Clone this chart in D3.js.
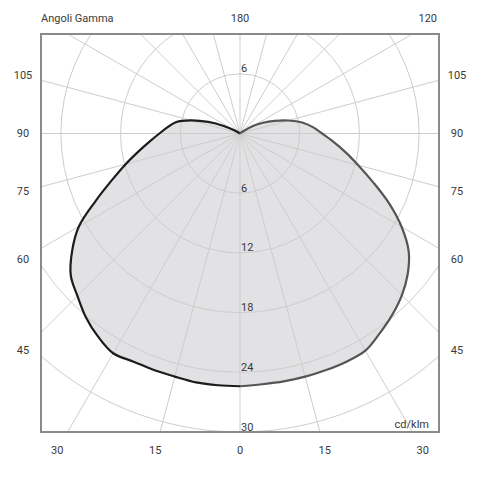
<!DOCTYPE html>
<html>
<head>
<meta charset="utf-8">
<script src="https://cdn.jsdelivr.net/npm/d3@7"></script>
<style>
  html, body { margin: 0; padding: 0; background: #fff; }
  svg { display: block; }
  text { font-family: Roboto, "Noto Sans", sans-serif; font-size: 11px; fill: #3a3a3a; }
</style>
</head>
<body>
<svg id="chart" width="492" height="482"></svg>
<script>
// ---- data (cd/klm per gamma angle) ----
const gammaAngles = [0,5,10,15,20,25,30,35,40,45,50,55,60,65,70,75,80,85,90,95,100,105,110,115,120,125,130];
const leftPlane  = [25.4,25.4,25.4,25.3,25.3,25.3,25.5,24.9,24.1,23.1,22.2,20.6,18.7,16.0,13.7,11.9,10.35,9.1,8.1,7.3,6.55,5.1,3.4,1.8,0.6,0,0];
const rightPlane = [25.4,25.3,25.3,25.3,25.3,25.3,25.2,24.5,23.8,23.0,22.0,20.7,18.75,16.5,14.2,12.3,10.76,9.4,8.25,7.35,6.35,5.05,3.7,2.55,1.5,0.3,0];
const ringValues = [6,12,18,24,30];
const ringLabelsBelow = [6,12,18,24,30];
const ringLabelsAbove = [6];
const spokeAngles = d3.range(0, 360, 15);
const leftAngleLabels = [15,30,45,60,75,90,105];
const rightAngleLabels = [15,30,45,60,75,90,105,120];
const bottomCenterLabel = 0;
const topCenterLabel = 180;
const titleText = "Angoli Gamma";
const unitText = "cd/klm";

// ---- layout ----
const svg = d3.select("#chart");
const x = d3.scaleLinear().domain([-20, 20]).range([41, 439]);
const y = d3.scaleLinear().domain([-10, 30]).range([34, 432]);
const r = d3.scaleLinear().domain([0, 30]).range([0, 298.5]);
const cx = x(0), cy = y(0);

svg.append("defs").append("clipPath").attr("id", "box")
  .append("rect").attr("x", x(-20)).attr("y", y(-10))
  .attr("width", x(20) - x(-20)).attr("height", y(30) - y(-10));

const plot = svg.append("g").attr("clip-path", "url(#box)");
const center = plot.append("g").attr("transform", `translate(${cx},${cy})`);

// points for each half (stop at first zero)
function half(values, side) {
  const pts = [];
  for (let i = 0; i < gammaAngles.length; i++) {
    const g = gammaAngles[i] * Math.PI / 180;
    pts.push([side > 0 ? Math.PI - g : Math.PI + g, r(values[i])]);
    if (values[i] === 0) break;
  }
  return pts;
}
const leftPts = half(leftPlane, -1);
const rightPts = half(rightPlane, 1);

const radial = d3.lineRadial().angle(d => d[0]).radius(d => d[1]).curve(d3.curveCatmullRom.alpha(0.5));

// fill
const fillPts = rightPts.slice().reverse().concat(leftPts.slice(1));
center.append("path").attr("d", radial(fillPts) + "Z")
  .attr("fill", "#e2e2e5").attr("stroke", "none");

// grid
const grid = center.append("g").attr("stroke", "#cdcdcd").attr("stroke-width", 1).attr("fill", "none");
ringValues.forEach(v => grid.append("circle").attr("r", r(v)));
spokeAngles.forEach(a => {
  const t = a * Math.PI / 180;
  grid.append("line").attr("x1", 0).attr("y1", 0)
    .attr("x2", 500 * Math.sin(t)).attr("y2", 500 * Math.cos(t));
});

// curves
center.append("path").attr("d", radial(leftPts)).attr("fill", "none")
  .attr("stroke", "#1c1c1c").attr("stroke-width", 2.2).attr("stroke-linejoin", "round");
center.append("path").attr("d", radial(rightPts)).attr("fill", "none")
  .attr("stroke", "#555555").attr("stroke-width", 2.2).attr("stroke-linejoin", "round");

// ring labels
ringLabelsBelow.forEach(v => svg.append("text").attr("x", cx + 1).attr("y", cy + r(v) - 1.5).text(v));
ringLabelsAbove.forEach(v => svg.append("text").attr("x", cx + 1).attr("y", cy - r(v) - 1.5).text(v));

// frame
svg.append("rect").attr("x", x(-20)).attr("y", y(-10))
  .attr("width", x(20) - x(-20)).attr("height", y(30) - y(-10))
  .attr("fill", "none").attr("stroke", "#8a8a8a").attr("stroke-width", 2);

// angle labels
const ob = { left: x(-20) - 18, right: x(20) + 18, top: y(-10) - 16, bottom: y(30) + 18 };
function anglePos(gDeg, side) {
  const g = gDeg * Math.PI / 180;
  const dx = side * Math.sin(g), dy = Math.cos(g);
  let t = Infinity;
  if (dx > 1e-9) t = Math.min(t, (ob.right - cx) / dx);
  if (dx < -1e-9) t = Math.min(t, (ob.left - cx) / dx);
  if (dy > 1e-9) t = Math.min(t, (ob.bottom - cy) / dy);
  if (dy < -1e-9) t = Math.min(t, (ob.top - cy) / dy);
  return [cx + t * dx, cy + t * dy];
}
function angleLabel(gDeg, side) {
  let [px, py] = anglePos(gDeg, side);
  let anchor = "middle";
  if (py < y(-10) && px > x(20) - 12) { px = x(20) - 2; anchor = "end"; }
  svg.append("text").attr("x", px).attr("y", py).attr("dy", "0.35em")
    .attr("text-anchor", anchor).text(gDeg);
}
leftAngleLabels.forEach(g => angleLabel(g, -1));
rightAngleLabels.forEach(g => angleLabel(g, 1));
angleLabel(bottomCenterLabel, 1);
angleLabel(topCenterLabel, 1);

svg.append("text").attr("x", x(-20)).attr("y", ob.top).attr("dy", "0.35em").text(titleText);
svg.append("text").attr("x", x(20) - 10).attr("y", y(30) - 4).attr("text-anchor", "end").text(unitText);
</script>
</body>
</html>
